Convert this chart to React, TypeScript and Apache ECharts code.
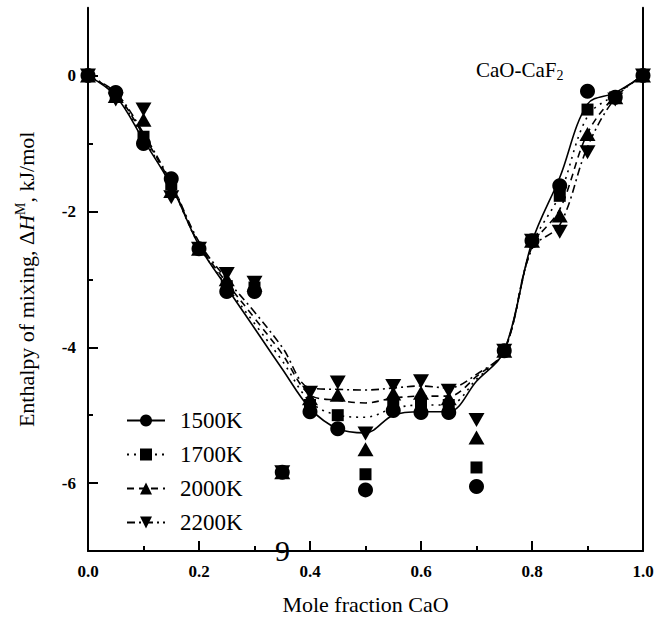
import React, { useEffect, useRef } from "react";
import * as echarts from "echarts";

const moleFractions = [0, 0.05, 0.1, 0.15, 0.2, 0.25, 0.3, 0.35, 0.4, 0.45, 0.5, 0.55, 0.6, 0.65, 0.7, 0.75, 0.8, 0.85, 0.9, 0.95, 1.0];
const temperatures = ["1500K", "1700K", "2000K", "2200K"];

// measured (symbols)
const points1500 = [0, -0.25, -1.0, -1.52, -2.55, -3.18, -3.18, -5.84, -4.95, -5.2, -6.1, -4.93, -4.96, -4.96, -6.05, -4.05, -2.43, -1.62, -0.23, -0.32, 0];
const points1700 = [0, -0.28, -0.9, -1.6, -2.55, -3.1, -3.12, -5.84, -4.85, -5.0, -5.87, -4.82, -4.82, -4.85, -5.77, -4.05, -2.43, -1.77, -0.5, -0.32, 0];
const points2000 = [0, -0.3, -0.65, -1.7, -2.55, -3.0, -3.08, -5.84, -4.75, -4.7, -5.5, -4.68, -4.67, -4.75, -5.33, -4.05, -2.43, -2.06, -0.86, -0.32, 0];
const points2200 = [0, -0.35, -0.5, -1.79, -2.55, -2.92, -3.05, -5.84, -4.67, -4.52, -5.27, -4.57, -4.5, -4.64, -5.07, -4.05, -2.43, -2.3, -1.13, -0.35, 0];

// model curves (lines)
const curve1500 = [0, -0.3, -0.95, -1.62, -2.5, -3.12, -3.72, -4.32, -4.9, -5.2, -5.26, -5.0, -4.95, -4.95, -4.5, -4.05, -2.45, -1.5, -0.42, -0.25, 0];
const curve1700 = [0, -0.28, -0.92, -1.62, -2.5, -3.1, -3.65, -4.2, -4.8, -5.0, -5.03, -4.9, -4.85, -4.85, -4.47, -4.05, -2.5, -1.75, -0.6, -0.28, 0];
const curve2000 = [0, -0.27, -0.88, -1.6, -2.48, -3.05, -3.57, -4.1, -4.7, -4.78, -4.82, -4.75, -4.72, -4.72, -4.43, -4.05, -2.52, -1.97, -0.85, -0.3, 0];
const curve2200 = [0, -0.25, -0.85, -1.58, -2.45, -3.0, -3.48, -4.0, -4.6, -4.62, -4.63, -4.6, -4.57, -4.6, -4.4, -4.05, -2.55, -2.2, -1.05, -0.33, 0];

const yMajorTicks = [0, -2, -4, -6];
const yMinorTicks = [-1, -3, -5];

const pointSets = [points1500, points1700, points2000, points2200];
const curveSets = [curve1500, curve1700, curve2000, curve2200];

const SERIF = '"Liberation Serif", "Times New Roman", serif';

export default function App() {
  const ref = useRef<HTMLDivElement>(null);

  useEffect(() => {
    const chart = echarts.init(ref.current!, null, { renderer: "svg" });
    const symbols = ["circle", "rect", "triangle", "triangle"];
    const rotates = [0, 0, 0, 180];
    const sizes: any[] = [15, 12, [16, 14], [16, 14]];
    const lineTypes: any[] = ["solid", [2, 5], [7, 5], [8, 4, 2, 4]];

    const series: any[] = [];
    temperatures.forEach((t, i) => {
      series.push({
        name: t,
        type: "line",
        data: moleFractions.map((x, k) => [x, curveSets[i][k]]),
        smooth: 0.35,
        showSymbol: false,
        symbol: symbols[i],
        symbolRotate: rotates[i],
        symbolSize: 12,
        itemStyle: { color: "#000", opacity: 1 },
        lineStyle: { color: "#000", width: 1.6, type: lineTypes[i] },
        z: 2,
      });
      series.push({
        name: t + " data",
        type: "scatter",
        data: moleFractions.map((x, k) => [x, pointSets[i][k]]),
        symbol: symbols[i],
        symbolRotate: rotates[i],
        symbolSize: sizes[i],
        itemStyle: { color: "#000", opacity: 1 },
        z: 3,
      });
    });

    chart.setOption({
      animation: false,
      backgroundColor: "#fff",
      grid: { left: 88, right: 15, top: 7.7, bottom: 66 },
      title: {
        text: "CaO-CaF{sub|2}",
        left: 471,
        top: 53,
        textStyle: {
          fontFamily: SERIF,
          fontSize: 21,
          fontWeight: "normal",
          color: "#000",
          lineHeight: 24,
          rich: {
            sub: { fontFamily: SERIF, fontSize: 14, lineHeight: 11, verticalAlign: "bottom", color: "#000" },
          },
        },
      },
      legend: {
        data: temperatures,
        orient: "vertical",
        left: 121,
        top: 404,
        itemWidth: 38,
        itemHeight: 15,
        itemGap: 11,
        selectedMode: false,
        textStyle: { fontFamily: SERIF, fontSize: 23, color: "#000", lineHeight: 20, padding: [0, 0, 0, 10] },
      },
      xAxis: {
        type: "value",
        min: 0,
        max: 1,
        interval: 0.2,
        name: "Mole fraction CaO",
        nameLocation: "middle",
        nameGap: 42,
        nameTextStyle: { fontFamily: SERIF, fontSize: 22, color: "#000" },
        axisLine: { onZero: false, lineStyle: { color: "#000", width: 2 } },
        axisTick: { inside: true, length: 10, lineStyle: { color: "#000", width: 2 } },
        minorTick: { show: true, splitNumber: 2, length: 5, lineStyle: { color: "#000", width: 2 } },
        splitLine: { show: false },
        minorSplitLine: { show: false },
        axisLabel: {
          formatter: (v: number) => v.toFixed(1),
          fontFamily: SERIF,
          fontWeight: "bold",
          fontSize: 17,
          color: "#000",
          margin: 12,
        },
      },
      yAxis: [
        {
          type: "value",
          min: -7,
          max: 1,
          interval: 1,
          position: "left",
          name: "Enthalpy of mixing, Δ{i|H}{sup|M}, kJ/mol",
          nameLocation: "middle",
          nameGap: 49,
          nameTextStyle: {
            fontFamily: SERIF,
            fontSize: 22,
            color: "#000",
            lineHeight: 26,
            rich: {
              i: { fontFamily: SERIF, fontStyle: "italic", fontSize: 22, lineHeight: 26, color: "#000" },
              sup: { fontFamily: SERIF, fontSize: 14, lineHeight: 11, verticalAlign: "top", color: "#000" },
            },
          },
          axisLine: { show: true, onZero: false, lineStyle: { color: "#000", width: 2 } },
          axisTick: { inside: true, length: 10, customValues: yMajorTicks, lineStyle: { color: "#000", width: 2 } },
          splitLine: { show: false },
          axisLabel: {
            customValues: yMajorTicks,
            fontFamily: SERIF,
            fontWeight: "bold",
            fontSize: 17,
            color: "#000",
            margin: 12,
          },
        },
        {
          type: "value",
          min: -7,
          max: 1,
          interval: 1,
          position: "left",
          axisLine: { show: false, onZero: false },
          axisTick: { inside: true, length: 5, customValues: yMinorTicks, lineStyle: { color: "#000", width: 2 } },
          axisLabel: { show: false },
          splitLine: { show: false },
        },
        {
          type: "value",
          min: -7,
          max: 1,
          interval: 1,
          position: "right",
          axisLine: { show: true, onZero: false, lineStyle: { color: "#000", width: 2 } },
          axisTick: { show: false },
          axisLabel: { show: false },
          splitLine: { show: false },
        },
      ],
      graphic: [
        {
          type: "text",
          left: 275,
          top: 535,
          style: { text: "9", font: 'normal 30px "Liberation Serif"', fill: "#000" },
        },
      ],
      series,
    });
    return () => chart.dispose();
  }, []);

  return (
    <div
      ref={ref}
      style={{ position: "absolute", left: 0, top: 0, width: 658, height: 620, background: "#fff" }}
    />
  );
}
